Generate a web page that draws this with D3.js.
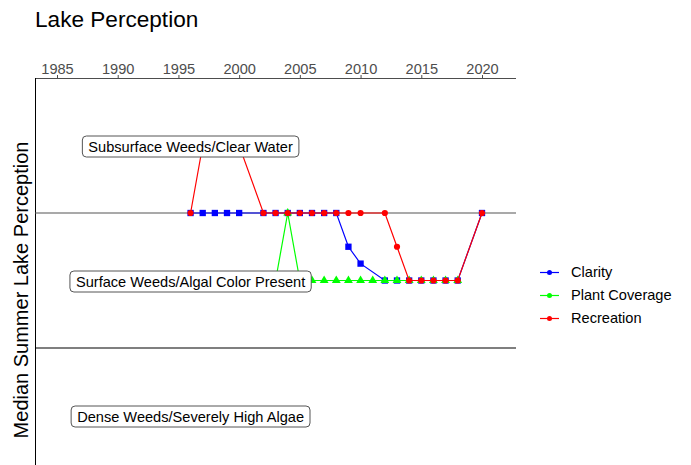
<!DOCTYPE html>
<html>
<head>
<meta charset="utf-8">
<script src="https://cdn.jsdelivr.net/npm/d3@7"></script>
<style>
  body { margin: 0; background: #fff; }
  svg { font-family: "Liberation Sans", Arial, sans-serif; }
</style>
</head>
<body>
<svg id="chart" width="691" height="465"></svg>
<script>
// data, one value per year from 1996 to 2020 (null = no sample that year)
const years = d3.range(1996, 2021)
const clarity = [1, 1, 1, 1, 1, null, 1, 1, 1, 1, 1, 1, 1, 1.5, 1.75, null, 2, 2, 2, 2, 2, 2, 2, null, 1]
const plantCoverage = [null, null, null, null, null, null, null, 2, 1, 2, 2, 2, 2, 2, 2, 2, 2, 2, 2, 2, 2, 2, 2, null, null]
const recreation = [1, 0, 0, 0, 0, null, 1, 1, 1, 1, 1, 1, 1, 1, 1, null, 1, 1.5, 2, 2, 2, 2, 2, null, 1]

const xTicks = [1985, 1990, 1995, 2000, 2005, 2010, 2015, 2020]
const levelLines = [1, 3]
const levelLabels = [
    { text: 'Subsurface Weeds/Clear Water', year: 1996, value: 0 },
    { text: 'Surface Weeds/Algal Color Present', year: 1996, value: 2 },
    { text: 'Dense Weeds/Severely High Algae', year: 1996, value: 4 }
]

const series = [
    { name: 'Clarity', values: clarity, color: '#0000ff', shape: d3.symbolSquare, size: 40 },
    { name: 'Plant Coverage', values: plantCoverage, color: '#00ff00', shape: d3.symbolTriangle, size: 34 },
    { name: 'Recreation', values: recreation, color: '#ff0000', shape: d3.symbolCircle, size: 30 }
]

const svg = d3.select('#chart')
const plotLeft = 35, plotRight = 516, plotTop = 78, plotBottom = 465

const x = d3.scaleLinear().domain([1985, 2020]).range([57, 482])
const y = d3.scaleLinear().domain([-1, 1]).range([plotTop, 213])

// title
svg.append('text')
    .attr('x', 35)
    .attr('y', 27)
    .attr('font-size', '22.6px')
    .attr('fill', '#000')
    .text('Lake Perception')

// y axis title
svg.append('text')
    .attr('transform', 'translate(28,290) rotate(-90)')
    .attr('text-anchor', 'middle')
    .attr('font-size', '20px')
    .text('Median Summer Lake Perception')

// top axis
const xAxis = svg.append('g')
    .attr('transform', `translate(0,${plotTop})`)
    .call(d3.axisTop(x).tickValues(xTicks).tickFormat(d3.format('d')).tickSize(3).tickPadding(1))
xAxis.select('.domain').remove()
xAxis.selectAll('line').attr('stroke', '#4d4d4d')
xAxis.selectAll('text')
    .attr('font-size', '14.6px')
    .attr('font-family', '"Liberation Sans", Arial, sans-serif')
    .attr('fill', '#4d4d4d')

svg.append('line')
    .attr('x1', plotLeft).attr('x2', plotRight)
    .attr('y1', plotTop + 0.5).attr('y2', plotTop + 0.5)
    .attr('stroke', '#4d4d4d')
    .attr('stroke-width', 1.1)

// left axis line
svg.append('line')
    .attr('x1', plotLeft + 0.5).attr('x2', plotLeft + 0.5)
    .attr('y1', plotTop).attr('y2', plotBottom)
    .attr('stroke', '#000')

// level lines
svg.append('g').selectAll('line').data(levelLines).enter()
    .append('line')
    .attr('x1', plotLeft).attr('x2', plotRight)
    .attr('y1', d => y(d)).attr('y2', d => y(d))
    .attr('stroke', (d, i) => i == 0 ? '#555' : '#000')
    .attr('stroke-width', 1.1)

// series -- missing years are just dropped, so the line joins across them
const line = d3.line()
    .x(d => x(d[0]))
    .y(d => y(d[1]))

series.forEach(s => {
    const pts = years.map((yr, i) => [yr, s.values[i]]).filter(d => d[1] != null)
    const g = svg.append('g')

    g.append('path')
        .datum(pts)
        .attr('d', line)
        .attr('fill', 'none')
        .attr('stroke', s.color)
        .attr('stroke-width', 1.2)

    g.selectAll('path.pt').data(pts).enter()
        .append('path')
        .attr('class', 'pt')
        .attr('d', d3.symbol().type(s.shape).size(s.size))
        .attr('transform', d => `translate(${x(d[0])},${y(d[1])})`)
        .attr('fill', s.color)
})

// level labels (drawn on top, like the original)
levelLabels.forEach(l => {
    const g = svg.append('g')
    const t = g.append('text')
        .attr('x', x(l.year))
        .attr('y', y(l.value) + 2.5)
        .attr('text-anchor', 'middle')
        .attr('dominant-baseline', 'middle')
        .attr('font-size', '14.6px')
        .attr('fill', '#000')
        .text(l.text)
    const bb = t.node().getBBox()
    g.insert('rect', 'text')
        .attr('x', bb.x - 6)
        .attr('y', y(l.value) - 9.5)
        .attr('width', bb.width + 12)
        .attr('height', 21)
        .attr('rx', 4)
        .attr('fill', '#fff')
        .attr('stroke', '#555')
        .attr('stroke-width', 1)
})

// legend
const legend = svg.append('g')
const legendY = d3.scaleBand().domain(series.map(s => s.name)).range([261, 330])

const rows = legend.selectAll('g').data(series).enter()
    .append('g')
    .attr('transform', s => `translate(0,${legendY(s.name) + legendY.bandwidth() / 2})`)

rows.append('line')
    .attr('x1', 540).attr('x2', 559)
    .attr('stroke', s => s.color)
    .attr('stroke-width', 1.2)
rows.append('circle')
    .attr('cx', 549.5)
    .attr('r', 2.5)
    .attr('fill', s => s.color)
rows.append('text')
    .attr('x', 571)
    .attr('y', 1)
    .attr('dominant-baseline', 'middle')
    .attr('font-size', '14.6px')
    .text(s => s.name)
</script>
</body>
</html>
